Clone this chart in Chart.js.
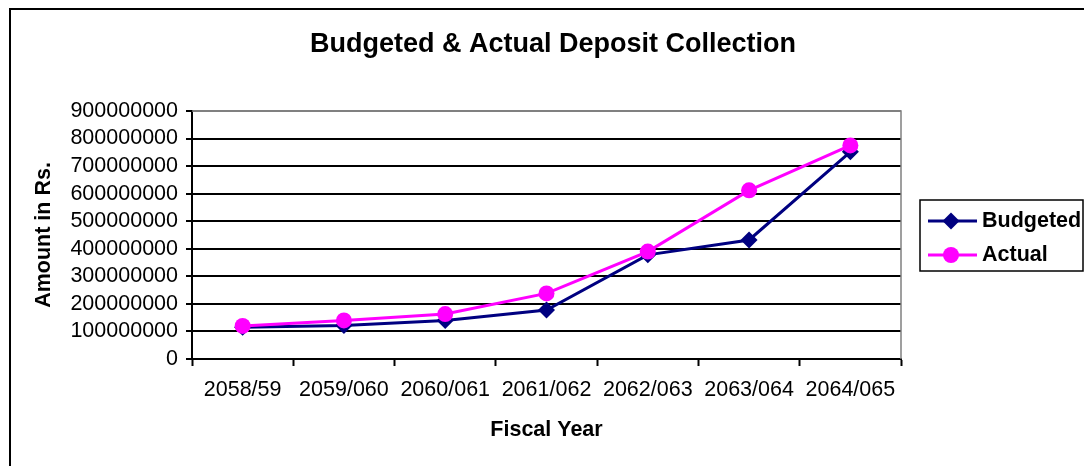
<!DOCTYPE html>
<html>
<head>
<meta charset="utf-8">
<title>Budgeted &amp; Actual Deposit Collection</title>
<script src="https://cdn.jsdelivr.net/npm/chart.js@4.4.1/dist/chart.umd.min.js"></script>
<style>
  html, body { margin: 0; padding: 0; background: #ffffff; }
  #wrap { width: 1084px; height: 466px; position: relative; overflow: hidden; }
  canvas { display: block; }
</style>
</head>
<body>
<div id="wrap"><canvas id="deposits" width="1084" height="466"></canvas></div>
<script>
// Fiscal years (Nepali calendar) on the category axis
const fiscalYears = ['2058/59', '2059/060', '2060/061', '2061/062', '2062/063', '2063/064', '2064/065'];

// Deposit collection, in rupees
const budgeted = [115000000, 122000000, 140000000, 178000000, 378000000, 432000000, 752000000];
const actual   = [120000000, 140000000, 163000000, 238000000, 390000000, 612000000, 775000000];

// Value axis range and step
const yMin = 0;
const yMax = 900000000;
const yStep = 100000000;

const FONT = "'Liberation Sans', Arial, sans-serif";

// White page with the outer chart frame and the heading
const framePlugin = {
  id: 'frame',
  beforeDraw(chart) {
    const { ctx, width, height } = chart;
    ctx.save();
    ctx.fillStyle = '#ffffff';
    ctx.fillRect(0, 0, width, height);
    ctx.strokeStyle = '#000000';
    ctx.lineWidth = 2;
    ctx.strokeRect(10, 9, width + 20, height + 20);
    ctx.restore();
  },
  afterDraw(chart) {
    const { ctx } = chart;
    ctx.save();
    ctx.fillStyle = '#000000';
    ctx.font = 'bold 27px ' + FONT;
    ctx.textAlign = 'center';
    ctx.textBaseline = 'alphabetic';
    ctx.fillText('Budgeted & Actual Deposit Collection', 553, 52);
    ctx.restore();
  }
};

// Gray border on the top and right of the plot area
const plotBorderPlugin = {
  id: 'plotBorder',
  beforeDatasetsDraw(chart) {
    const { ctx, chartArea: a } = chart;
    ctx.save();
    ctx.strokeStyle = '#808080';
    ctx.lineWidth = 1.5;
    ctx.beginPath();
    ctx.moveTo(a.left, a.top);
    ctx.lineTo(a.right, a.top);
    ctx.lineTo(a.right, a.bottom);
    ctx.stroke();
    ctx.restore();
  }
};

// Boxed legend at the right, line with marker then series name
const sideLegendPlugin = {
  id: 'sideLegend',
  afterDraw(chart) {
    const { ctx } = chart;
    const box = { x: 920, y: 200, w: 163, h: 71 };
    ctx.save();
    ctx.fillStyle = '#ffffff';
    ctx.fillRect(box.x, box.y, box.w, box.h);
    ctx.strokeStyle = '#000000';
    ctx.lineWidth = 1.5;
    ctx.strokeRect(box.x, box.y, box.w, box.h);
    chart.data.datasets.forEach((ds, i) => {
      const cy = box.y + 21 + i * 34;
      ctx.strokeStyle = ds.borderColor;
      ctx.lineWidth = ds.borderWidth;
      ctx.beginPath();
      ctx.moveTo(box.x + 8, cy);
      ctx.lineTo(box.x + 57, cy);
      ctx.stroke();
      ctx.fillStyle = ds.backgroundColor;
      Chart.helpers.drawPoint(ctx, {
        pointStyle: ds.pointStyle,
        radius: ds.pointRadius,
        rotation: 0,
        borderWidth: 0
      }, box.x + 31, cy);
      ctx.fillStyle = '#000000';
      ctx.font = 'bold 21.5px ' + FONT;
      ctx.textAlign = 'left';
      ctx.textBaseline = 'middle';
      ctx.fillText(ds.label, box.x + 62, cy);
    });
    ctx.restore();
  }
};

new Chart(document.getElementById('deposits'), {
  type: 'line',
  data: {
    labels: fiscalYears,
    datasets: [
      {
        label: 'Budgeted',
        data: budgeted,
        borderColor: '#000080',
        backgroundColor: '#000080',
        borderWidth: 3,
        pointStyle: 'rectRot',
        pointRadius: 8.5,
        pointHoverRadius: 8.5,
        pointBorderWidth: 0,
        tension: 0,
        order: 1
      },
      {
        label: 'Actual',
        data: actual,
        borderColor: '#ff00ff',
        backgroundColor: '#ff00ff',
        borderWidth: 3,
        pointStyle: 'circle',
        pointRadius: 8,
        pointHoverRadius: 8,
        pointBorderWidth: 0,
        tension: 0,
        order: 0
      }
    ]
  },
  options: {
    responsive: false,
    animation: false,
    devicePixelRatio: 1,
    layout: { padding: { left: 0, right: 183, top: 111, bottom: 0 } },
    plugins: {
      legend: { display: false },
      title: { display: false },
      tooltip: { enabled: false }
    },
    scales: {
      x: {
        type: 'category',
        offset: true,
        afterFit(scale) { scale.height = 107; },
        grid: {
          offset: true,
          drawOnChartArea: false,
          drawTicks: true,
          tickLength: 7,
          tickColor: '#000000',
          tickWidth: 2
        },
        border: { display: true, color: '#000000', width: 2 },
        ticks: {
          color: '#000000',
          font: { family: FONT, size: 21.5 },
          padding: 11,
          maxRotation: 0,
          autoSkip: false
        },
        title: {
          display: true,
          text: 'Fiscal Year',
          color: '#000000',
          font: { family: FONT, size: 21.5, weight: 'bold' },
          padding: { top: 0, bottom: 23 }
        }
      },
      y: {
        min: yMin,
        max: yMax,
        afterFit(scale) { scale.width = 192; },
        grid: {
          color: (c) => (c.tick && c.tick.value === yMax ? '#808080' : '#000000'),
          lineWidth: 2,
          drawTicks: true,
          tickLength: 6,
          tickColor: '#000000',
          tickWidth: 2
        },
        border: { display: true, color: '#000000', width: 2 },
        ticks: {
          stepSize: yStep,
          autoSkip: false,
          color: '#000000',
          font: { family: FONT, size: 21.5 },
          padding: 8,
          callback: (v) => String(v)
        },
        title: {
          display: true,
          text: 'Amount in Rs.',
          color: '#000000',
          font: { family: FONT, size: 21.5, weight: 'bold' },
          padding: { top: 31, bottom: 0 }
        }
      }
    }
  },
  plugins: [framePlugin, plotBorderPlugin, sideLegendPlugin]
});
</script>
</body>
</html>
